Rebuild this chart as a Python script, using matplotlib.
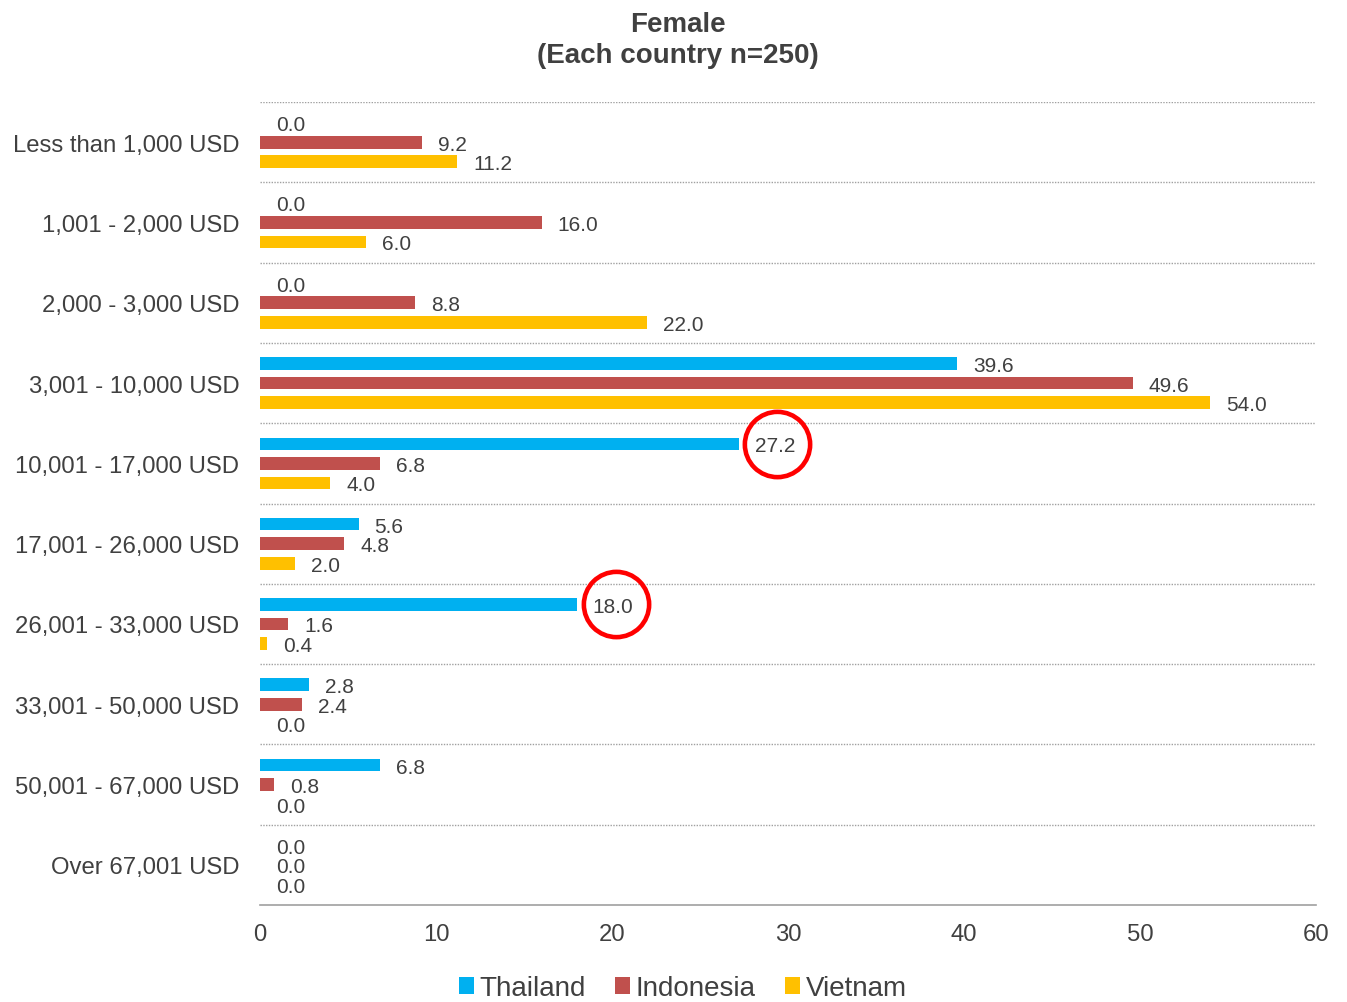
import matplotlib
matplotlib.use("Agg")
import matplotlib.pyplot as plt
from matplotlib.patches import Patch
import numpy as np

plt.rcParams["font.family"] = ["Liberation Sans", "DejaVu Sans"]

categories = [
    "Less than 1,000 USD",
    "1,001 - 2,000 USD",
    "2,000 - 3,000 USD",
    "3,001 - 10,000 USD",
    "10,001 - 17,000 USD",
    "17,001 - 26,000 USD",
    "26,001 - 33,000 USD",
    "33,001 - 50,000 USD",
    "50,001 - 67,000 USD",
    "Over 67,001 USD",
]
series_names = ["Thailand", "Indonesia", "Vietnam"]
thailand = [0.0, 0.0, 0.0, 39.6, 27.2, 5.6, 18.0, 2.8, 6.8, 0.0]
indonesia = [9.2, 16.0, 8.8, 49.6, 6.8, 4.8, 1.6, 2.4, 0.8, 0.0]
vietnam = [11.2, 6.0, 22.0, 54.0, 4.0, 2.0, 0.4, 0.0, 0.0, 0.0]
highlighted = [("Thailand", "10,001 - 17,000 USD"), ("Thailand", "26,001 - 33,000 USD")]

colors = ["#00B0F0", "#C0504D", "#FFC000"]
text_color = "#404040"

fig = plt.figure(figsize=(13.47, 10.03), dpi=100)
ax = fig.add_axes([0.193, 0.0967, 0.784, 0.8006])

y = np.arange(len(categories))
offsets = [-0.243, 0.0, 0.243]
bar_h = 0.158
all_series = [thailand, indonesia, vietnam]

for name, vals, off, col in zip(series_names, all_series, offsets, colors):
    ax.barh(y + off, vals, height=bar_h, color=col, label=name)
    for yi, v in zip(y, vals):
        ax.annotate(f"{v:.1f}", xy=(v, yi + off), xytext=(16, -2),
                    textcoords="offset pixels", ha="left", va="center",
                    fontsize=15, color=text_color)

# red circles around the highlighted data labels
for sname, cat in highlighted:
    si = series_names.index(sname)
    ci = categories.index(cat)
    v = all_series[si][ci]
    ax.plot(v + 2.2, ci + offsets[si], marker="o", ms=47, mfc="none",
            mec="#FF0000", mew=3.3, zorder=5, clip_on=False)

ax.set_xlim(0, 60)
ax.set_ylim(len(categories) - 0.5, -0.5)
ax.set_xticks(np.arange(0, 61, 10))
ax.set_yticks(y)
ax.set_yticklabels(categories)
ax.tick_params(axis="both", length=0, labelsize=17.2, colors=text_color)
ax.tick_params(axis="x", pad=13)
ax.tick_params(axis="y", pad=15)

for b in np.arange(len(categories)) - 0.5:
    ax.axhline(b, color="#A0A0A0", lw=1.0, ls=(0, (1, 1)), zorder=0)

for s in ["top", "right", "left"]:
    ax.spines[s].set_visible(False)
ax.spines["bottom"].set_color("#A0A0A0")
ax.spines["bottom"].set_linewidth(1.2)

fig.text(0.5035, 0.988, "Female\n(Each country n=250)", ha="center", va="top",
         fontsize=20, fontweight="bold", color=text_color, linespacing=1.27)

handles = [Patch(facecolor=c, edgecolor="none") for c in colors]
fig.legend(handles, series_names, loc="lower center", bbox_to_anchor=(0.507, -0.024),
           ncol=3, frameon=False, fontsize=20, handlelength=0.55, handleheight=0.55,
           handletextpad=0.2, columnspacing=1.05, labelcolor=text_color)

fig.savefig("out.png", dpi=100)
